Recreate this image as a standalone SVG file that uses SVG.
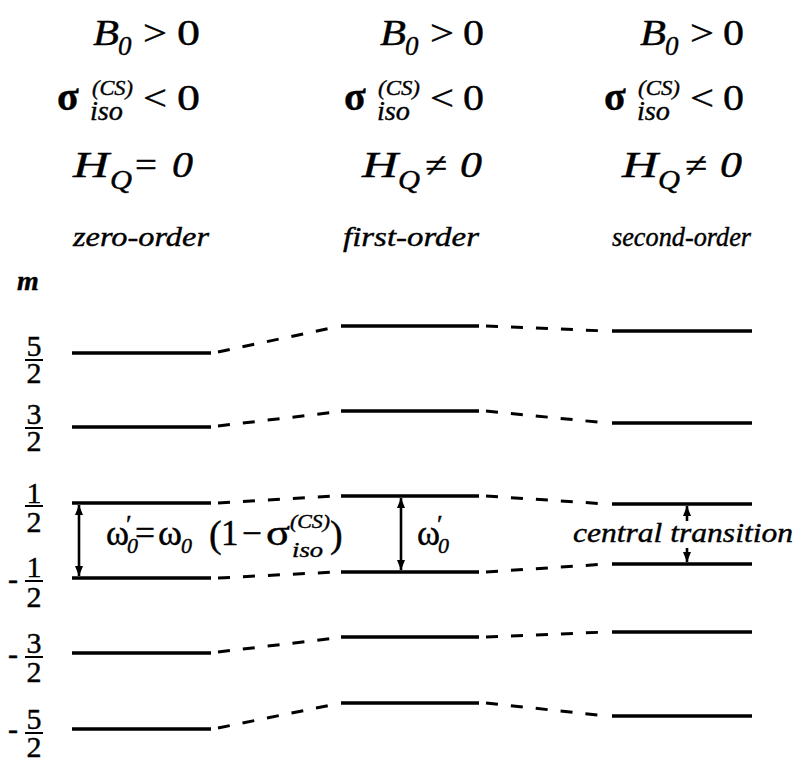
<svg xmlns="http://www.w3.org/2000/svg" width="799" height="759" viewBox="0 0 799 759" font-family="Liberation Serif, serif">
<style>
text{fill:#000;stroke:#000;stroke-width:0.4}
.it{font-style:italic}
.bd{font-weight:bold}
.h{font-size:35px}
.sub{font-size:27px;font-style:italic}
.lab{font-size:28px;font-style:italic}
.fr{font-size:30px;text-anchor:middle}
.lvl{stroke:#000;stroke-width:3.4;fill:none}
.dash{stroke:#000;stroke-width:3;fill:none;stroke-dasharray:12 13}
.bar{stroke:#000;stroke-width:2}
.arr{stroke:#000;stroke-width:2.6;fill:none}
</style>
<defs>
<marker id="ah" viewBox="0 0 10 10" refX="10" refY="5" markerWidth="4" markerHeight="4.5" orient="auto" markerUnits="strokeWidth">
<path d="M0,1 L10,5 L0,9 Z" fill="#000"/>
</marker>
</defs>
<rect width="799" height="759" fill="#fff"/>

<!-- Column headers -->
<g id="header-zero">
<text class="h it" x="93" y="45" textLength="26" lengthAdjust="spacingAndGlyphs">B</text><text class="sub" x="118" y="55">0</text><text class="h" x="143" y="45" textLength="24" lengthAdjust="spacingAndGlyphs">&gt;</text><text class="h" x="177" y="45" textLength="23" lengthAdjust="spacingAndGlyphs">0</text>
<text class="bd" style="font-size:40px" x="57" y="110">σ</text><text class="it" style="font-size:22px" x="92" y="95" textLength="41" lengthAdjust="spacingAndGlyphs">(CS)</text><text class="it" style="font-size:27px" x="90" y="120" textLength="33" lengthAdjust="spacingAndGlyphs">iso</text><text class="h" x="143" y="110" textLength="24" lengthAdjust="spacingAndGlyphs">&lt;</text><text class="h" x="177" y="110" textLength="23" lengthAdjust="spacingAndGlyphs">0</text>
<text class="h it" x="73" y="177" textLength="36" lengthAdjust="spacingAndGlyphs">H</text><text class="sub" x="110" y="189" textLength="22" lengthAdjust="spacingAndGlyphs">Q</text><text class="h" x="135" y="177" textLength="22" lengthAdjust="spacingAndGlyphs">=</text><text class="h it" x="172" y="177" textLength="21" lengthAdjust="spacingAndGlyphs">0</text>
<text class="lab" x="73" y="246" textLength="136" lengthAdjust="spacingAndGlyphs">zero-order</text>
</g>
<g id="header-first">
<text class="h it" x="380" y="45" textLength="26" lengthAdjust="spacingAndGlyphs">B</text><text class="sub" x="405" y="55">0</text><text class="h" x="430" y="45" textLength="24" lengthAdjust="spacingAndGlyphs">&gt;</text><text class="h" x="463" y="45" textLength="21" lengthAdjust="spacingAndGlyphs">0</text>
<text class="bd" style="font-size:40px" x="344" y="110">σ</text><text class="it" style="font-size:22px" x="378" y="95" textLength="42" lengthAdjust="spacingAndGlyphs">(CS)</text><text class="it" style="font-size:27px" x="377" y="120" textLength="33" lengthAdjust="spacingAndGlyphs">iso</text><text class="h" x="430" y="110" textLength="24" lengthAdjust="spacingAndGlyphs">&lt;</text><text class="h" x="463" y="110" textLength="21" lengthAdjust="spacingAndGlyphs">0</text>
<text class="h it" x="362" y="177" textLength="36" lengthAdjust="spacingAndGlyphs">H</text><text class="sub" x="398" y="189" textLength="22" lengthAdjust="spacingAndGlyphs">Q</text><text class="h" x="425" y="177" textLength="22" lengthAdjust="spacingAndGlyphs">≠</text><text class="h it" x="460" y="177" textLength="22" lengthAdjust="spacingAndGlyphs">0</text>
<text class="lab" x="343" y="246" textLength="136" lengthAdjust="spacingAndGlyphs">first-order</text>
</g>
<g id="header-second">
<text class="h it" x="640" y="45" textLength="26" lengthAdjust="spacingAndGlyphs">B</text><text class="sub" x="665" y="55">0</text><text class="h" x="690" y="45" textLength="24" lengthAdjust="spacingAndGlyphs">&gt;</text><text class="h" x="723" y="45" textLength="21" lengthAdjust="spacingAndGlyphs">0</text>
<text class="bd" style="font-size:40px" x="604" y="110">σ</text><text class="it" style="font-size:22px" x="638" y="95" textLength="42" lengthAdjust="spacingAndGlyphs">(CS)</text><text class="it" style="font-size:27px" x="637" y="120" textLength="33" lengthAdjust="spacingAndGlyphs">iso</text><text class="h" x="690" y="110" textLength="24" lengthAdjust="spacingAndGlyphs">&lt;</text><text class="h" x="723" y="110" textLength="21" lengthAdjust="spacingAndGlyphs">0</text>
<text class="h it" x="622" y="177" textLength="36" lengthAdjust="spacingAndGlyphs">H</text><text class="sub" x="658" y="189" textLength="22" lengthAdjust="spacingAndGlyphs">Q</text><text class="h" x="685" y="177" textLength="22" lengthAdjust="spacingAndGlyphs">≠</text><text class="h it" x="720" y="177" textLength="22" lengthAdjust="spacingAndGlyphs">0</text>
<text class="lab" x="612" y="246" textLength="139" lengthAdjust="spacingAndGlyphs">second-order</text>
</g>

<!-- m labels -->
<g id="m-labels">
<text class="lab bd" x="17" y="290">m</text>
<text class="fr" x="34" y="356">5</text><line class="bar" x1="25" y1="360" x2="43" y2="360"/><text class="fr" x="34" y="383">2</text>
<text class="fr" x="34" y="424">3</text><line class="bar" x1="25" y1="428" x2="43" y2="428"/><text class="fr" x="34" y="451">2</text>
<text class="fr" x="34" y="503">1</text><line class="bar" x1="25" y1="506" x2="43" y2="506"/><text class="fr" x="34" y="532">2</text>
<text class="fr" x="13" y="589">-</text><text class="fr" x="34" y="577">1</text><line class="bar" x1="25" y1="581" x2="43" y2="581"/><text class="fr" x="34" y="607">2</text>
<text class="fr" x="13" y="664">-</text><text class="fr" x="34" y="653">3</text><line class="bar" x1="25" y1="657" x2="43" y2="657"/><text class="fr" x="34" y="682">2</text>
<text class="fr" x="13" y="739">-</text><text class="fr" x="34" y="729">5</text><line class="bar" x1="25" y1="733" x2="43" y2="733"/><text class="fr" x="34" y="757">2</text>
</g>

<!-- Level nodes -->
<g id="zero-order-levels">
<line class="lvl" x1="72" y1="353" x2="211" y2="353"/>
<line class="lvl" x1="72" y1="427" x2="211" y2="427"/>
<line class="lvl" x1="72" y1="503" x2="211" y2="503"/>
<line class="lvl" x1="72" y1="578" x2="211" y2="578"/>
<line class="lvl" x1="72" y1="653" x2="211" y2="653"/>
<line class="lvl" x1="72" y1="729" x2="211" y2="729"/>
</g>
<g id="first-order-levels">
<line class="lvl" x1="341" y1="326" x2="479" y2="326"/>
<line class="lvl" x1="341" y1="411" x2="479" y2="411"/>
<line class="lvl" x1="341" y1="496" x2="479" y2="496"/>
<line class="lvl" x1="341" y1="572" x2="479" y2="572"/>
<line class="lvl" x1="341" y1="637" x2="479" y2="637"/>
<line class="lvl" x1="341" y1="703" x2="479" y2="703"/>
</g>
<g id="second-order-levels">
<line class="lvl" x1="612" y1="331" x2="752" y2="331"/>
<line class="lvl" x1="612" y1="423" x2="752" y2="423"/>
<line class="lvl" x1="612" y1="504" x2="752" y2="504"/>
<line class="lvl" x1="612" y1="564" x2="752" y2="564"/>
<line class="lvl" x1="612" y1="632" x2="752" y2="632"/>
<line class="lvl" x1="612" y1="716" x2="752" y2="716"/>
</g>

<!-- Connectors -->
<g id="connectors">
<line class="dash" x1="218" y1="352" x2="336" y2="327"/>
<line class="dash" x1="218" y1="426" x2="336" y2="412"/>
<line class="dash" x1="218" y1="503" x2="336" y2="496"/>
<line class="dash" x1="218" y1="578" x2="336" y2="572"/>
<line class="dash" x1="218" y1="652" x2="336" y2="638"/>
<line class="dash" x1="218" y1="728" x2="336" y2="704"/>
<line class="dash" x1="486" y1="326" x2="607" y2="331"/>
<line class="dash" x1="486" y1="411" x2="607" y2="423"/>
<line class="dash" x1="486" y1="496" x2="607" y2="504"/>
<line class="dash" x1="486" y1="572" x2="607" y2="564"/>
<line class="dash" x1="486" y1="637" x2="607" y2="632"/>
<line class="dash" x1="486" y1="703" x2="607" y2="716"/>
</g>

<!-- Transition arrows -->
<g id="arrow-zero">
<line class="arr" x1="79" y1="540" x2="79" y2="505" marker-end="url(#ah)"/>
<line class="arr" x1="79" y1="540" x2="79" y2="576" marker-end="url(#ah)"/>
</g>
<g id="arrow-first">
<line class="arr" x1="401" y1="534" x2="401" y2="498" marker-end="url(#ah)"/>
<line class="arr" x1="401" y1="534" x2="401" y2="570" marker-end="url(#ah)"/>
</g>
<g id="arrow-second">
<line class="arr" x1="687" y1="521" x2="687" y2="506" marker-end="url(#ah)"/>
<line class="arr" x1="687" y1="548" x2="687" y2="562" marker-end="url(#ah)"/>
</g>

<!-- Formula labels -->
<g id="label-zero">
<text class="h" x="106" y="545" textLength="23" lengthAdjust="spacingAndGlyphs">ω</text><text style="font-size:26px" x="126" y="533">′</text><text class="it" style="font-size:22px" x="127" y="553">0</text>
<text class="h" x="135" y="545" textLength="20" lengthAdjust="spacingAndGlyphs">=</text>
<text class="h" x="158" y="545" textLength="24" lengthAdjust="spacingAndGlyphs">ω</text><text class="it" style="font-size:22px" x="181" y="553">0</text>
<text style="font-size:38px" x="209" y="547">(</text><text class="h" x="221" y="545">1</text><text class="h" x="242" y="545" textLength="20" lengthAdjust="spacingAndGlyphs">−</text>
<text class="h" x="266" y="545" textLength="24" lengthAdjust="spacingAndGlyphs">σ</text><text class="it" style="font-size:18px" x="290" y="528" textLength="40" lengthAdjust="spacingAndGlyphs">(CS)</text><text class="it" style="font-size:22px" x="292" y="557" textLength="31" lengthAdjust="spacingAndGlyphs">iso</text>
<text style="font-size:38px" x="330" y="547">)</text>
</g>
<g id="label-first">
<text class="h" x="417" y="545" textLength="23" lengthAdjust="spacingAndGlyphs">ω</text><text style="font-size:26px" x="437" y="533">′</text><text class="it" style="font-size:22px" x="438" y="553">0</text>
</g>
<g id="label-second">
<text class="lab" x="573" y="542" textLength="220" lengthAdjust="spacingAndGlyphs">central transition</text>
</g>
</svg>
